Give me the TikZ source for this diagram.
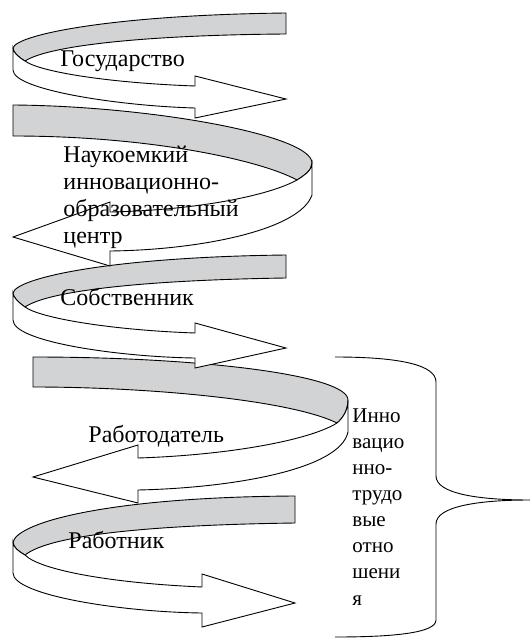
\documentclass[tikz,border=0pt]{standalone}
\usepackage{fontspec}
\setmainfont{Liberation Serif}
\definecolor{bandgray}{RGB}{210,211,213}

\begin{document}
\begin{tikzpicture}[x=1pt,y=-1pt,line width=0.9pt]
      \tikzstyle{back face}=[draw=black,fill=bandgray]
      \tikzstyle{front face}=[draw=black,fill=white]
      \tikzstyle{ribbon text}=[font=\rmfamily\fontsize{24}{26.7}\selectfont,inner sep=0pt,anchor=base west,align=left]
      \tikzstyle{side text}=[ribbon text,font=\rmfamily\fontsize{21}{26.1}\selectfont]
      \useasboundingbox (0,0) rectangle (531,639);

      % Draw the ribbons from the bottom up, so that each arrow head lies on the next band
      \path[back face] (295,496) -- (295,523) .. controls (150,525) and (50,535) .. (25,555)
          .. controls (18,551) and (13,547) .. (13,542) .. controls (18,522) and (110,497) .. (295,496) -- cycle;
      \path[front face] (13,542) -- (13,573) .. controls (13,595) and (120,612) .. (202,613) -- (202,627)
          -- (295,603) -- (202,574) -- (202,587) .. controls (110,583) and (40,570) .. (25,555)
          .. controls (18,551) and (13,547) .. (13,542) -- cycle;

      \path[back face] (33,357) -- (33,387) .. controls (150,387) and (290,400) .. (337,423)
          .. controls (343,418) and (348,410) .. (348,400) .. controls (348,375) and (200,357) .. (33,357) -- cycle;
      \path[front face] (348,400) -- (348,432) .. controls (340,470) and (230,488) .. (138,490) -- (138,503)
          -- (33,477) -- (138,445) -- (138,458) .. controls (230,455) and (310,440) .. (337,423)
          .. controls (343,418) and (348,410) .. (348,400) -- cycle;

      \path[back face] (286,255) -- (286,278) .. controls (150,280) and (50,290) .. (25,307)
          .. controls (18,302) and (13,297) .. (13,293) .. controls (16,278) and (110,257) .. (286,255) -- cycle;
      \path[front face] (13,293) -- (13,320) .. controls (13,342) and (120,357) .. (195,358) -- (195,368)
          -- (286,348) -- (195,323) -- (195,333) .. controls (110,330) and (40,318) .. (25,307)
          .. controls (18,302) and (13,297) .. (13,293) -- cycle;

      \path[back face] (13,105) -- (13,136) .. controls (150,136) and (260,160) .. (297,180)
          .. controls (305,175) and (312,170) .. (312,163) .. controls (312,135) and (150,106) .. (13,105) -- cycle;
      \path[front face] (312,163) -- (312,195) .. controls (300,230) and (200,250) .. (110,251) -- (110,266)
          -- (13,237) -- (110,202) -- (110,212) .. controls (200,210) and (270,195) .. (297,180)
          .. controls (305,175) and (312,170) .. (312,163) -- cycle;

      \path[back face] (286,13) -- (286,34) .. controls (150,35) and (50,45) .. (25,61)
          .. controls (18,57) and (13,52) .. (13,48) .. controls (16,35) and (110,15) .. (286,13) -- cycle;
      \path[front face] (13,48) -- (13,70) .. controls (13,90) and (120,106) .. (195,108) -- (195,118)
          -- (286,99) -- (195,76) -- (195,86) .. controls (110,83) and (40,72) .. (25,61)
          .. controls (18,57) and (13,52) .. (13,48) -- cycle;

      % The brace
      \draw (335,357) .. controls (400,357) and (436,365) .. (436,382) -- (436,476)
          .. controls (436,494) and (480,500) .. (530,500)
          .. controls (480,500) and (436,506) .. (436,524) -- (436,620)
          .. controls (436,632) and (400,637) .. (335,637);

      % Annotate the ribbons (base of a multi-line node = its last line)
      \node[ribbon text] (state) at (60,67) {Государство};
      \node[ribbon text] (centre) at (63,243) {Наукоемкий\\инновационно-\\образовательный\\центр};
      \node[ribbon text] (owner) at (60,305) {Собственник};
      \node[ribbon text] (employer) at (88,442) {Работодатель};
      \node[ribbon text] (worker) at (68,548) {Работник};
      \node[side text] (relations) at (352,605) {Инно\\вацио\\нно-\\трудо\\вые\\отно\\шени\\я};
\end{tikzpicture}
\end{document}
